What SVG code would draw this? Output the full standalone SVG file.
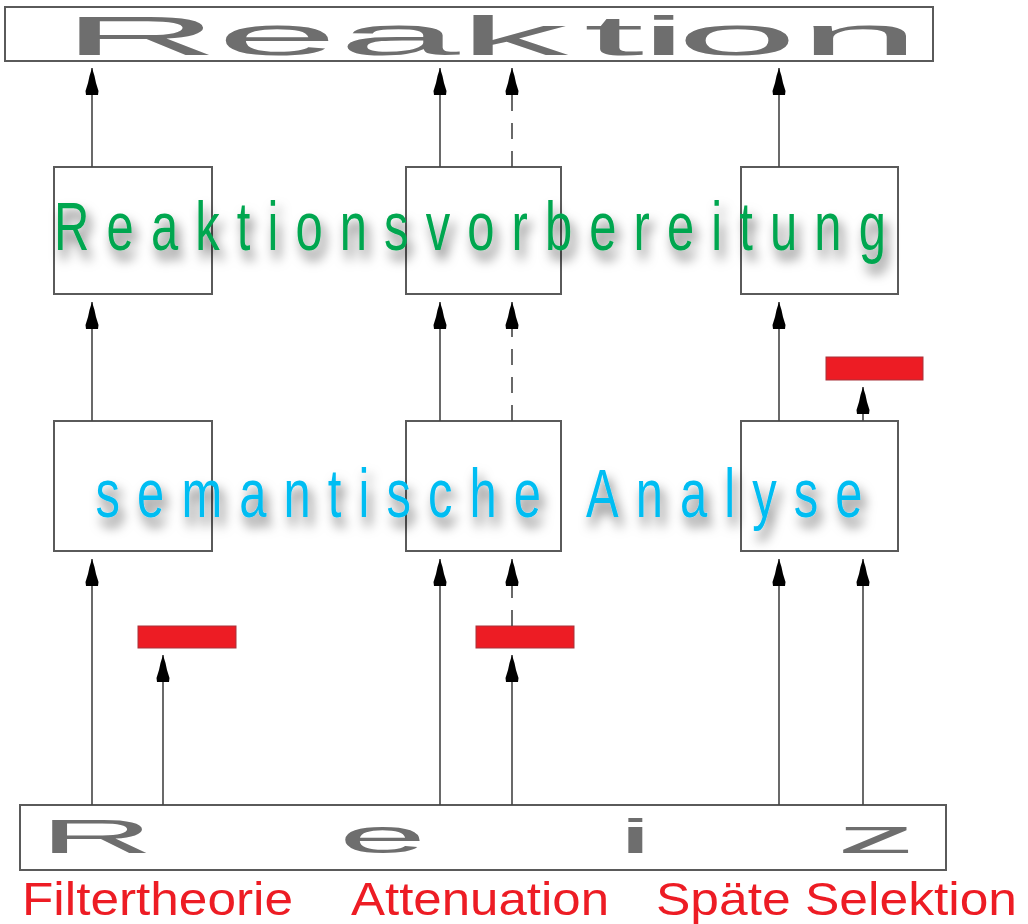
<svg xmlns="http://www.w3.org/2000/svg" width="1028" height="924" viewBox="0 0 1028 924">
<style>
.box{fill:#fff;stroke:#5a5a5a;stroke-width:2}
.red{fill:#ed1c24;stroke:#a8323a;stroke-width:1}
.ln{stroke:#444;stroke-width:1.6;fill:none;marker-end:url(#ah)}
.dash{stroke-dasharray:16 12}
.gray{font-family:"Liberation Sans",Arial,sans-serif;fill:#6e6e6e}
.big{font-family:"Liberation Sans",Arial,sans-serif;font-size:68px}
.lbl{font-family:"Liberation Sans",Arial,sans-serif;font-size:46px;fill:#ed1c24}
</style>
<defs>
<marker id="ah" markerUnits="userSpaceOnUse" orient="auto" viewBox="-29 -10 30 20" refX="0" refY="0" markerWidth="30" markerHeight="20">
<path d="M0,0 L-8,-2.5 L-15,-4 L-23,-6.5 L-27,-6 L-27,6 L-23,6.5 L-15,4 L-8,2.5 Z" fill="#000"/>
</marker>
<filter id="sh" x="-10%" y="-40%" width="120%" height="200%">
<feDropShadow dx="4" dy="9" stdDeviation="6" flood-color="#000" flood-opacity="0.6"/>
</filter>
</defs>

<g id="reaktion">
<rect class="box" x="5" y="7" width="928" height="54"/>
<text class="gray" font-size="56" transform="translate(0,55) scale(3.9,1)" x="15.8 55.5 86.7 117.6 149.6 164 173.4 204.8">Reaktion</text>
</g>

<g id="rv1"><rect class="box" x="54" y="167" width="158" height="127"/></g>
<g id="rv2"><rect class="box" x="406" y="167" width="155" height="127"/></g>
<g id="rv3"><rect class="box" x="741" y="167" width="157" height="127"/></g>

<g id="sa1"><rect class="box" x="54" y="421" width="158" height="130"/></g>
<g id="sa2"><rect class="box" x="406" y="421" width="155" height="130"/></g>
<g id="sa3"><rect class="box" x="741" y="421" width="157" height="130"/></g>

<g id="filter1"><rect class="red" x="138" y="626" width="98" height="22"/></g>
<g id="filter2"><rect class="red" x="476" y="626" width="98" height="22"/></g>
<g id="filter3"><rect class="red" x="826" y="357" width="97" height="23"/></g>

<g id="reiz">
<rect class="box" x="20" y="805" width="926" height="65"/>
<text class="gray" font-size="48" transform="translate(0,853) scale(3.3,1)" x="11.9 102.6 187.2 253.6">Reiz</text>
</g>

<g id="connectors">
<line class="ln" x1="92" y1="805" x2="92" y2="559"/>
<line class="ln" x1="92" y1="421" x2="92" y2="302"/>
<line class="ln" x1="92" y1="167" x2="92" y2="68"/>
<line class="ln" x1="163" y1="805" x2="163" y2="655"/>
<line class="ln" x1="440" y1="805" x2="440" y2="559"/>
<line class="ln" x1="440" y1="421" x2="440" y2="302"/>
<line class="ln" x1="440" y1="167" x2="440" y2="68"/>
<line class="ln" x1="512" y1="805" x2="512" y2="655"/>
<line class="ln dash" x1="512" y1="626" x2="512" y2="559"/>
<line class="ln dash" x1="512" y1="421" x2="512" y2="302"/>
<line class="ln dash" x1="512" y1="167" x2="512" y2="68"/>
<line class="ln" x1="779" y1="805" x2="779" y2="559"/>
<line class="ln" x1="779" y1="421" x2="779" y2="302"/>
<line class="ln" x1="779" y1="167" x2="779" y2="68"/>
<line class="ln" x1="863" y1="805" x2="863" y2="559"/>
<line class="ln" x1="863" y1="421" x2="863" y2="387"/>
</g>

<g id="label-reaktionsvorbereitung" filter="url(#sh)">
<text class="big" fill="#00a650" transform="translate(58,250) scale(0.72,1)" x="-5.4" letter-spacing="23.75">Reaktionsvorbereitung</text>
</g>
<g id="label-semantische-analyse" filter="url(#sh)">
<text class="big" fill="#00bdf2" transform="translate(97,517) scale(0.72,1)" x="-2" letter-spacing="23.7">semantische Analyse</text>
</g>

<g id="labels">
<text class="lbl" x="22" y="915" textLength="271" lengthAdjust="spacingAndGlyphs">Filtertheorie</text>
<text class="lbl" x="351" y="915" textLength="258" lengthAdjust="spacingAndGlyphs">Attenuation</text>
<text class="lbl" x="656" y="915" textLength="361" lengthAdjust="spacingAndGlyphs">Späte Selektion</text>
</g>
</svg>
